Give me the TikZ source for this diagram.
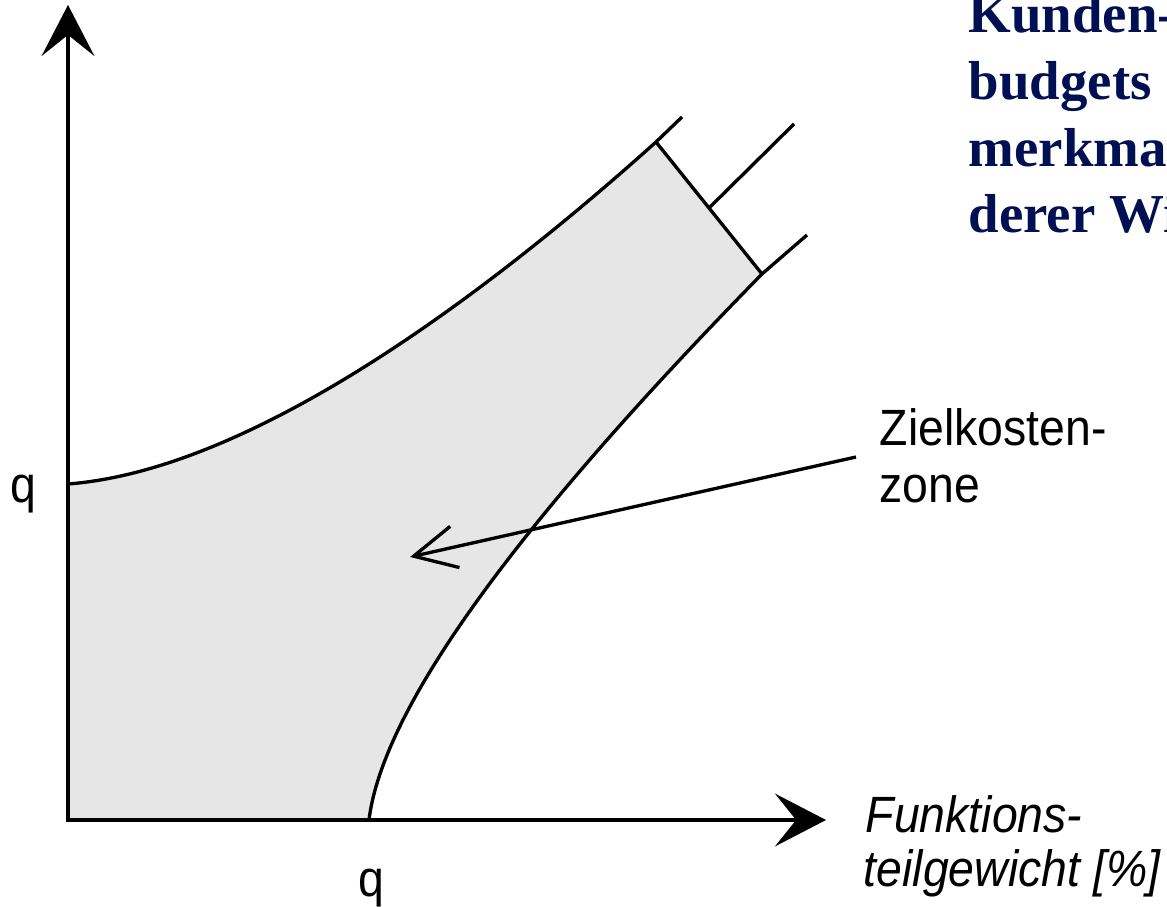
\documentclass[tikz,border=0pt]{standalone}
\usepackage{fontspec}
\setmainfont{Liberation Serif}
\setsansfont{Liberation Sans}[FakeStretch=0.91]
\usetikzlibrary{arrows.meta}
\definecolor{headnavy}{RGB}{0,16,82}
\definecolor{zonegray}{RGB}{230,230,230}
\begin{document}
\begin{tikzpicture}[x=0.01cm,y=-0.01cm,
  blk/.style={line width=0.95pt, draw=black},
  axtip/.tip={Stealth[length=14.5pt,width=15pt,inset=6pt]},
  lbl/.style={font=\sffamily\fontsize{14.5}{15.4}\selectfont, inner sep=0pt, anchor=base west},
  lbli/.style={font=\sffamily\itshape\fontsize{14.5}{15.4}\selectfont, inner sep=0pt, anchor=base west},
  head/.style={font=\rmfamily\bfseries\fontsize{15.6}{19}\selectfont, text=headnavy, inner sep=0pt, anchor=base west}]
\useasboundingbox (0,0) rectangle (1167,907);
\clip (0,0) rectangle (1167,907);
% key points
\coordinate (O) at (68,820);
\coordinate (ytip) at (68,5);
\coordinate (xtip) at (826,820);
\coordinate (ua) at (68,484);
\coordinate (ub) at (656,142);
\coordinate (ue) at (682,117);
\coordinate (la) at (369,820);
\coordinate (lb) at (762,274);
\coordinate (le) at (807,235);
\coordinate (dm) at (709,208);
\coordinate (dme) at (794,124);
\coordinate (zs) at (856,457);
\coordinate (zt) at (410,557);
% zone
\fill[zonegray] (O) -- (ua) .. controls (250,470) and (480,300) .. (ub) -- (lb) .. controls (560,480) and (385,690) .. (la) -- cycle;
% boundary curves with extension lines
\draw[blk] (ua) .. controls (250,470) and (480,300) .. (ub) -- (ue);
\draw[blk] (la) .. controls (385,690) and (560,480) .. (lb) -- (le);
\draw[blk] (ub) -- (lb);
\draw[blk] (dm) -- (dme);
% axes
\draw[blk, axtip-axtip] (ytip) -- (O) -- (xtip);
% pointer arrow
\draw[blk, -{Straight Barb[length=12pt,width=12pt]}] (zs) -- (zt);
% labels
\node[lbl] (qy) at (10,503) {q};
\node[lbl] (qx) at (358,896) {q};
\node[lbl] (z1) at (879,446) {Zielkosten-};
\node[lbl] (z2) at (879,503) {zone};
\node[lbli] (f1) at (865,832) {Funktions-};
\node[lbli] (f2) at (863,886) {teilgewicht [\%]};
\node[head] (h1) at (968,33) {Kunden-};
\node[head] (h2) at (968,100) {budgets};
\node[head] (h3) at (968,167) {merkma};
\node[head] (h4) at (968,233) {derer Wi};
\end{tikzpicture}
\end{document}
